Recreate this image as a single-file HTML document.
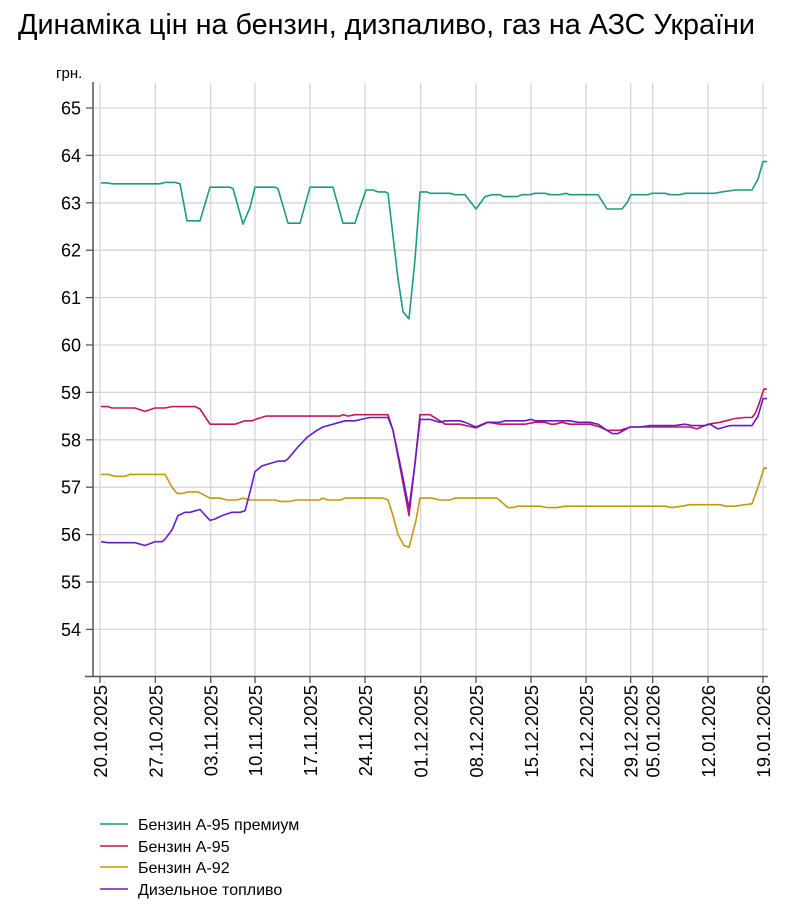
<!DOCTYPE html>
<html><head><meta charset="utf-8"><style>
body{margin:0;background:#fff;}
svg{display:block;font-family:"Liberation Sans",Arial,sans-serif;}
</style></head><body>
<svg id="s" width="807" height="919" xmlns="http://www.w3.org/2000/svg">
<text x="18" y="34" font-size="28.5" fill="#000" textLength="737" lengthAdjust="spacingAndGlyphs">Динаміка цін на бензин, дизпаливо, газ на АЗС України</text>
<text x="56" y="78" font-size="15" fill="#000">грн.</text>
<g id="grid" stroke="#d6d6d6" stroke-width="1.3"></g>
<g id="lbl" font-size="18" fill="#000"></g>
<line x1="93" y1="82" x2="93" y2="677" stroke="#555" stroke-width="1.5"/>
<line x1="85" y1="676.5" x2="768" y2="676.5" stroke="#555" stroke-width="1.5"/>
<g id="ser" fill="none" stroke-width="1.6" stroke-linejoin="round"></g>
<g font-size="16" fill="#000">
<line x1="100" y1="824" x2="128" y2="824" stroke="#1a9c84" stroke-width="1.6"/><text x="138" y="830">Бензин А-95 премиум</text>
<line x1="100" y1="846" x2="128" y2="846" stroke="#c2185b" stroke-width="1.6"/><text x="138" y="852">Бензин А-95</text>
<line x1="100" y1="867" x2="128" y2="867" stroke="#c29a0a" stroke-width="1.6"/><text x="138" y="873">Бензин А-92</text>
<line x1="100" y1="889" x2="128" y2="889" stroke="#6a1bc6" stroke-width="1.6"/><text x="138" y="895">Дизельное топливо</text>
</g>
</svg>
<script>
var NS="http://www.w3.org/2000/svg";
function Y(v){return 108+(65-v)*47.4;}
function el(p,t,a,txt){var e=document.createElementNS(NS,t);for(var k in a)e.setAttribute(k,a[k]);if(txt)e.textContent=txt;document.getElementById(p).appendChild(e);}
for(var v=54;v<=65;v++){var y=Y(v);el("grid","line",{x1:93,x2:767,y1:y,y2:y});el("grid","line",{x1:86,x2:93,y1:y,y2:y,stroke:"#555"});el("lbl","text",{x:81,y:y+6.5,"text-anchor":"end"},v);}
var d=[[100,"20.10.2025"],[155.3,"27.10.2025"],[210.7,"03.11.2025"],[255,"10.11.2025"],[310,"17.11.2025"],[365,"24.11.2025"],[420.7,"01.12.2025"],[476,"08.12.2025"],[531,"15.12.2025"],[586,"22.12.2025"],[630.7,"29.12.2025"],[652.7,"05.01.2026"],[708,"12.01.2026"],[763,"19.01.2026"]];
d.forEach(function(a){el("grid","line",{x1:a[0],x2:a[0],y1:83,y2:683});el("grid","line",{x1:a[0],x2:a[0],y1:676,y2:683,stroke:"#555"});el("lbl","text",{transform:"translate("+(a[0]+7)+",685) rotate(-90)","text-anchor":"end","font-size":"18.5"},a[1]);});
function S(col,pts){var s=[];for(var i=0;i<pts.length;i+=2)s.push(pts[i]+","+Y(pts[i+1]).toFixed(1));el("ser","polyline",{stroke:col,points:s.join(" ")});}
S("#c29a0a",[101,57.27,108,57.27,115,57.23,125,57.23,130,57.27,165,57.27,172,57.0,177,56.87,183,56.87,188,56.9,198,56.9,210,56.77,220,56.77,227,56.73,237,56.73,243,56.77,250,56.73,275,56.73,280,56.7,290,56.7,296,56.73,320,56.73,322,56.77,328,56.73,340,56.73,345,56.77,383,56.77,388,56.73,393,56.4,398,56.0,404,55.77,409,55.73,416,56.3,420,56.77,432,56.77,440,56.73,450,56.73,455,56.77,497,56.77,508,56.57,512,56.57,518,56.6,540,56.6,547,56.57,557,56.57,565,56.6,665,56.6,672,56.57,682,56.6,690,56.63,720,56.63,726,56.6,735,56.6,745,56.63,752,56.65,758,57.0,764,57.4,767,57.4]);
S("#c2185b",[101,58.7,108,58.7,112,58.67,135,58.67,145,58.6,155,58.67,165,58.67,172,58.7,195,58.7,200,58.65,210,58.33,235,58.33,245,58.4,252,58.4,258,58.45,266,58.5,340,58.5,343,58.53,348,58.5,355,58.53,388,58.53,393,58.2,402,57.2,409,56.4,415,57.5,420,58.53,430,58.53,440,58.4,445,58.33,460,58.33,476,58.25,488,58.37,500,58.33,525,58.33,535,58.37,545,58.37,551,58.33,555,58.33,562,58.37,570,58.33,590,58.33,600,58.27,607,58.2,620,58.2,631,58.27,690,58.27,697,58.23,708,58.33,720,58.37,735,58.45,745,58.47,752,58.47,755,58.55,758,58.7,764,59.07,767,59.07]);
S("#6a1bc6",[101,55.85,108,55.83,135,55.83,145,55.77,155,55.85,162,55.85,165,55.9,172,56.1,178,56.4,185,56.47,190,56.47,200,56.53,210,56.3,215,56.33,222,56.4,232,56.47,240,56.47,245,56.5,250,56.9,255,57.33,262,57.45,270,57.5,278,57.55,285,57.55,288,57.6,298,57.85,307,58.05,317,58.2,323,58.27,333,58.33,345,58.4,355,58.4,365,58.45,370,58.47,388,58.47,393,58.2,402,57.3,409,56.55,415,57.5,420,58.43,430,58.43,440,58.37,445,58.4,460,58.4,465,58.37,476,58.27,487,58.37,500,58.37,505,58.4,525,58.4,531,58.43,535,58.4,570,58.4,578,58.37,590,58.37,598,58.33,607,58.2,612,58.13,618,58.13,630,58.27,640,58.27,650,58.3,675,58.3,685,58.33,692,58.3,705,58.3,710,58.33,718,58.23,730,58.3,752,58.3,758,58.5,763,58.87,767,58.87]);
S("#1a9c84",[101,63.42,108,63.42,112,63.4,160,63.4,165,63.43,175,63.43,180,63.4,187,62.62,200,62.62,210,63.33,230,63.33,233,63.3,243,62.55,250,62.9,255,63.33,275,63.33,278,63.3,288,62.57,300,62.57,310,63.33,333,63.33,343,62.57,355,62.57,360,62.9,366,63.27,373,63.27,378,63.23,385,63.23,388,63.2,393,62.3,398,61.4,403,60.7,409,60.55,415,61.8,420,63.23,427,63.23,430,63.2,450,63.2,455,63.17,465,63.17,476,62.87,485,63.13,492,63.17,500,63.17,503,63.13,517,63.13,522,63.17,530,63.17,535,63.2,545,63.2,550,63.17,560,63.17,566,63.2,570,63.17,598,63.17,607,62.87,622,62.87,627,63.0,631,63.17,648,63.17,652,63.2,665,63.2,670,63.17,680,63.17,685,63.2,715,63.2,722,63.23,735,63.27,752,63.27,758,63.5,763,63.87,767,63.87]);
</script>
</body></html>
